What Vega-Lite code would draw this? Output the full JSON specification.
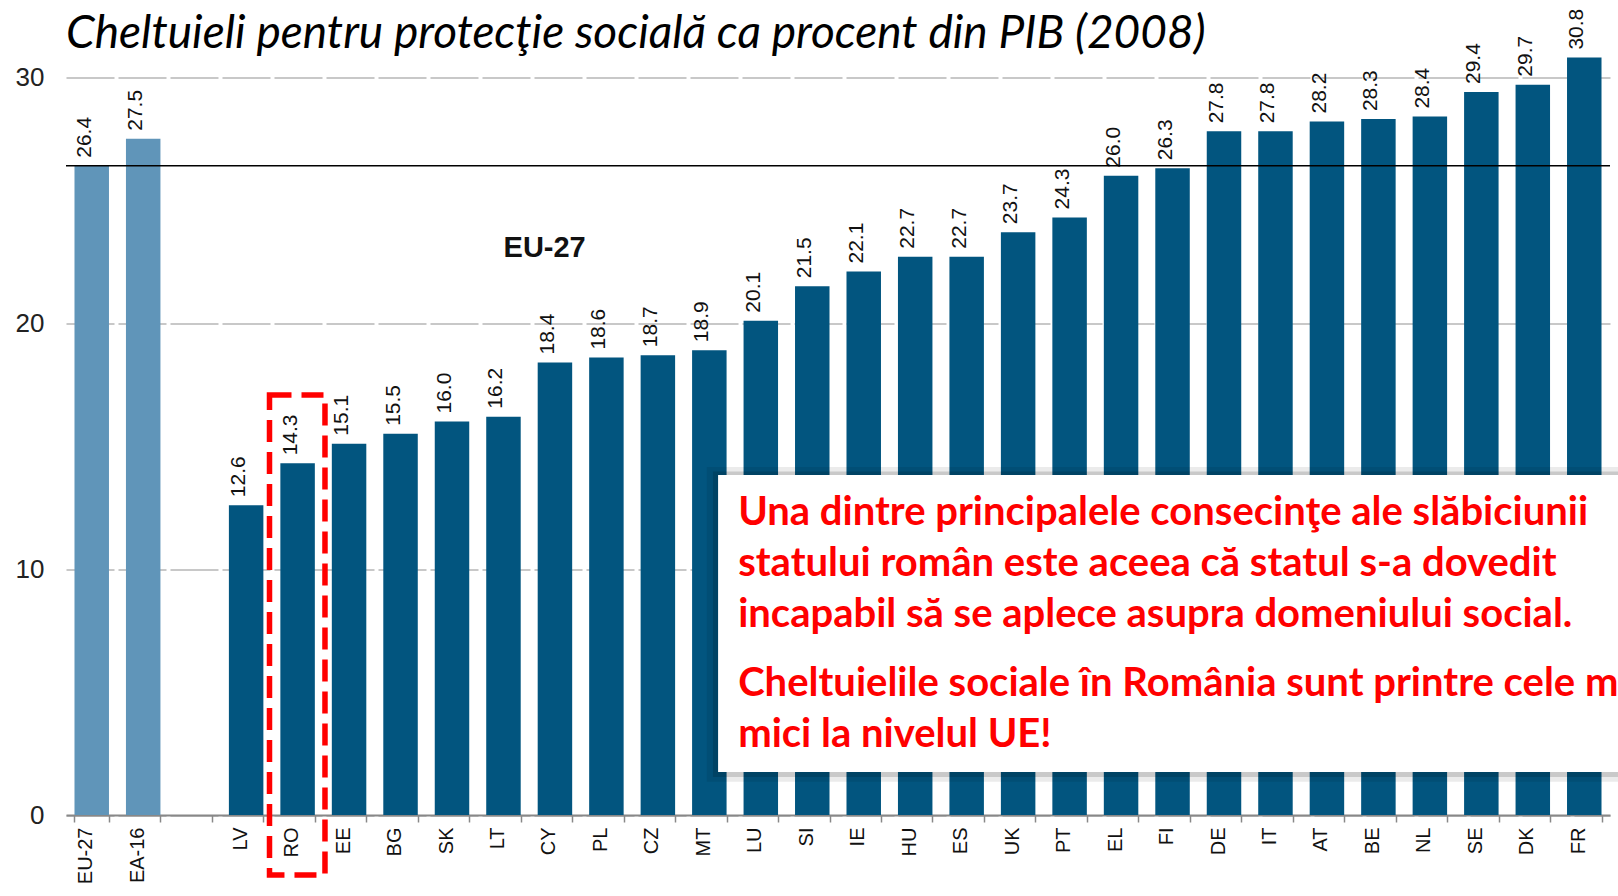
{
  "$schema": "https://vega.github.io/schema/vega-lite/v6.json",
  "autosize": {"type": "none"},
  "width": 1544,
  "height": 811.5,
  "padding": {"left": 66, "top": 3.5, "right": 8, "bottom": 81},
  "background": "white",
  "title": {
    "text": "Cheltuieli pentru protecţie socială ca procent din PIB (2008)",
    "anchor": "start",
    "frame": "group",
    "font": "Lato",
    "fontSize": 46,
    "fontStyle": "italic",
    "fontWeight": "normal",
    "color": "#000000",
    "offset": -54
  },
  "config": {"view": {"stroke": null}, "font": "Liberation Sans"},
  "resolve": {"scale": {"x": "independent"}},
  "layer": [
    {
      "data": {"values": [
        {"c": "EU-27", "v": 26.4, "g": "agg"},
        {"c": "EA-16", "v": 27.5, "g": "agg"},
        {"c": " ", "v": null, "g": "agg"},
        {"c": "LV", "v": 12.6, "g": "cty"},
        {"c": "RO", "v": 14.3, "g": "cty"},
        {"c": "EE", "v": 15.1, "g": "cty"},
        {"c": "BG", "v": 15.5, "g": "cty"},
        {"c": "SK", "v": 16.0, "g": "cty"},
        {"c": "LT", "v": 16.2, "g": "cty"},
        {"c": "CY", "v": 18.4, "g": "cty"},
        {"c": "PL", "v": 18.6, "g": "cty"},
        {"c": "CZ", "v": 18.7, "g": "cty"},
        {"c": "MT", "v": 18.9, "g": "cty"},
        {"c": "LU", "v": 20.1, "g": "cty"},
        {"c": "SI", "v": 21.5, "g": "cty"},
        {"c": "IE", "v": 22.1, "g": "cty"},
        {"c": "HU", "v": 22.7, "g": "cty"},
        {"c": "ES", "v": 22.7, "g": "cty"},
        {"c": "UK", "v": 23.7, "g": "cty"},
        {"c": "PT", "v": 24.3, "g": "cty"},
        {"c": "EL", "v": 26.0, "g": "cty"},
        {"c": "FI", "v": 26.3, "g": "cty"},
        {"c": "DE", "v": 27.8, "g": "cty"},
        {"c": "IT", "v": 27.8, "g": "cty"},
        {"c": "AT", "v": 28.2, "g": "cty"},
        {"c": "BE", "v": 28.3, "g": "cty"},
        {"c": "NL", "v": 28.4, "g": "cty"},
        {"c": "SE", "v": 29.4, "g": "cty"},
        {"c": "DK", "v": 29.7, "g": "cty"},
        {"c": "FR", "v": 30.8, "g": "cty"}
      ]},
      "encoding": {
        "x": {
          "field": "c", "type": "nominal",
          "scale": {
            "domain": ["EU-27", "EA-16", " ", "LV", "RO", "EE", "BG", "SK", "LT", "CY", "PL", "CZ", "MT", "LU", "SI", "IE", "HU", "ES", "UK", "PT", "EL", "FI", "DE", "IT", "AT", "BE", "NL", "SE", "DK", "FR"],
            "paddingInner": 0.33, "paddingOuter": 0.165
          },
          "axis": {
            "title": null, "labelAngle": -90, "labelAlign": "right", "labelBaseline": "middle",
            "labelFont": "Liberation Sans", "labelFontSize": 20, "labelColor": "#111111",
            "labelPadding": 5, "labelOffset": -6,
            "domainColor": "#888888", "domainWidth": 2,
            "tickColor": "#888888", "tickWidth": 1.5, "tickSize": 7, "tickBand": "extent",
            "grid": false
          }
        },
        "y": {
          "field": "v", "type": "quantitative",
          "scale": {"domain": [0, 33], "nice": false, "zero": true},
          "axis": {
            "title": null, "values": [0, 10, 20, 30], "domain": false, "ticks": false,
            "labelFont": "Liberation Sans", "labelFontSize": 26, "labelColor": "#222222", "labelPadding": 22,
            "grid": true, "gridColor": "#c8c8c8", "gridWidth": 2, "gridDash": [48, 4]
          }
        }
      },
      "layer": [
        {
          "mark": {"type": "bar"},
          "encoding": {
            "color": {"field": "g", "type": "nominal", "scale": {"domain": ["agg", "cty"], "range": ["#6095b9", "#02557f"]}, "legend": null}
          }
        },
        {
          "transform": [{"filter": "datum.v != null"}],
          "mark": {"type": "text", "angle": 270, "align": "left", "baseline": "middle", "dx": 8, "dy": -7, "font": "Liberation Sans", "fontSize": 21, "color": "#111111"},
          "encoding": {"text": {"field": "v", "type": "quantitative", "format": ".1f"}}
        }
      ]
    },
    {
      "data": {"values": [{}]},
      "layer": [
        {
          "mark": {"type": "rule", "color": "#000000", "strokeWidth": 1.5},
          "encoding": {"y": {"datum": 26.4, "type": "quantitative"}}
        },
        {
          "mark": {"type": "text", "font": "Liberation Sans", "fontWeight": "bold", "fontSize": 29, "align": "center", "baseline": "middle", "color": "#111111"},
          "encoding": {
            "x": {"datum": 9.3, "type": "quantitative", "scale": {"domain": [0, 30], "nice": false, "zero": false}, "axis": null},
            "y": {"datum": 23.05, "type": "quantitative"},
            "text": {"value": "EU-27"}
          }
        },
        {
          "mark": {"type": "rect", "color": "#000000", "opacity": 0.08},
          "encoding": {
            "x": {"datum": 12.45, "type": "quantitative"}, "x2": {"datum": 31},
            "y": {"datum": 1.35, "type": "quantitative"}, "y2": {"datum": 14.15}
          }
        },
        {
          "mark": {"type": "rect", "color": "#000000", "opacity": 0.14},
          "encoding": {
            "x": {"datum": 12.57, "type": "quantitative"}, "x2": {"datum": 31},
            "y": {"datum": 1.55, "type": "quantitative"}, "y2": {"datum": 13.97}
          }
        },
        {
          "mark": {"type": "rect", "color": "#ffffff", "opacity": 1},
          "encoding": {
            "x": {"datum": 12.67, "type": "quantitative"}, "x2": {"datum": 31},
            "y": {"datum": 1.75, "type": "quantitative"}, "y2": {"datum": 13.83}
          }
        },
        {
          "mark": {"type": "text", "font": "Lato", "fontWeight": "bold", "fontSize": 40, "align": "left", "baseline": "alphabetic", "lineHeight": 51, "color": "#ff0000"},
          "encoding": {
            "x": {"datum": 13.06, "type": "quantitative"},
            "y": {"datum": 11.79, "type": "quantitative"},
            "text": {"value": ["Una dintre principalele consecinţe ale slăbiciunii", "statului român este aceea că statul s-a dovedit", "incapabil să se aplece asupra domeniului social."]}
          }
        },
        {
          "mark": {"type": "text", "font": "Lato", "fontWeight": "bold", "fontSize": 40, "align": "left", "baseline": "alphabetic", "lineHeight": 51, "color": "#ff0000"},
          "encoding": {
            "x": {"datum": 13.06, "type": "quantitative"},
            "y": {"datum": 4.84, "type": "quantitative"},
            "text": {"value": ["Cheltuielile sociale în România sunt printre cele mai", "mici la nivelul UE!"]}
          }
        },
        {
          "mark": {"type": "rect", "fillOpacity": 0, "stroke": "#ff0000", "strokeWidth": 5.5, "strokeDash": [22, 10]},
          "encoding": {
            "x": {"datum": 3.954, "type": "quantitative"}, "x2": {"datum": 5.032},
            "y": {"datum": 17.08, "type": "quantitative"}, "y2": {"datum": -2.44}
          }
        }
      ]
    }
  ]
}
